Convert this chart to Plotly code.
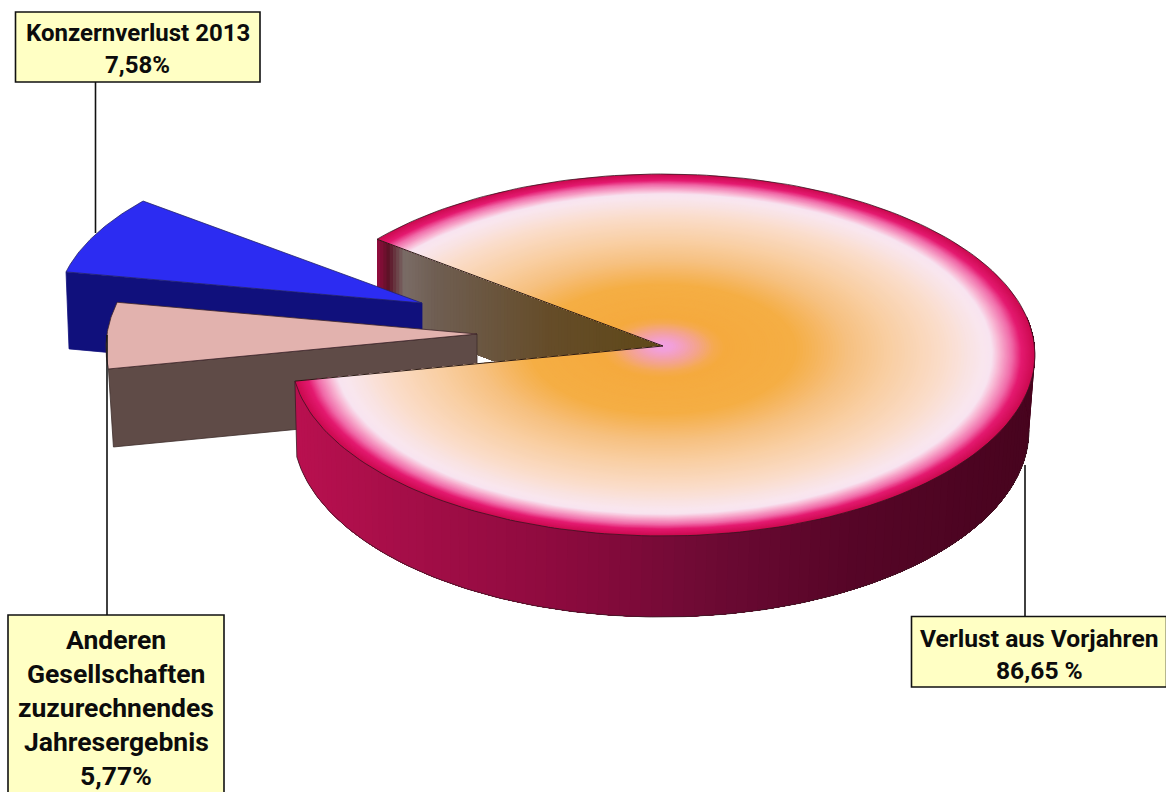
import math
import numpy as np
import plotly.graph_objects as go

# Shares of the consolidated loss, in percent
segment_names = ["Verlust aus Vorjahren", "Konzernverlust 2013", "Anderen Gesellschaften zuzurechnendes Jahresergebnis"]
segment_shares = [86.65, 7.58, 5.77]
label_lines = [
    ["Verlust aus Vorjahren", "86,65 %"],
    ["Konzernverlust 2013", "7,58%"],
    ["Anderen", "Gesellschaften", "zuzurechnendes", "Jahresergebnis", "5,77%"],
]

W, H = 1166, 792
START_DEG = 188.3  # where the large slice begins, counter-clockwise
FONT = "Roboto"


def spans():
    """Turn the shares into consecutive angular spans in degrees."""
    out, a = [], START_DEG
    for s in segment_shares:
        out.append((a, a + s * 3.6))
        a += s * 3.6
    return out


def mix(stops, f):
    """Piecewise linear colour lookup; stops are (position, '#rrggbb')."""
    f = min(max(f, stops[0][0]), stops[-1][0])
    for (p0, c0), (p1, c1) in zip(stops, stops[1:]):
        if f <= p1:
            k = 0 if p1 == p0 else (f - p0) / (p1 - p0)
            a = [int(c0[i:i + 2], 16) for i in (1, 3, 5)]
            b = [int(c1[i:i + 2], 16) for i in (1, 3, 5)]
            v = [round(x + (y - x) * k) for x, y in zip(a, b)]
            return f"rgb({v[0]},{v[1]},{v[2]})"
    return stops[-1][1]


def arc(cx, cy, rx, ry, a0, a1, n=160):
    t = np.radians(np.linspace(a0, a1, n))
    return cx + rx * np.cos(t), cy - ry * np.sin(t)


fig = go.Figure()


def poly(x, y, fill, line=None, lw=0.0):
    fig.add_trace(go.Scatter(
        x=list(x) + [x[0]], y=list(y) + [y[0]], mode="lines", fill="toself",
        fillcolor=fill, line=dict(color=line or fill, width=lw if line else 0),
        hoverinfo="skip", showlegend=False))


def stroke(x, y, color="#2a1a1e", lw=0.9):
    fig.add_trace(go.Scatter(
        x=list(x), y=list(y), mode="lines", line=dict(color=color, width=lw),
        hoverinfo="skip", showlegend=False))


(main_a0, main_a1), (blue_a0, blue_a1), (rose_a0, rose_a1) = spans()

# Large slice: top ellipse, gradient anchor and the slightly smaller base ellipse
APEX = (663.0, 346.0)
TOP = dict(cx=663.0, cy=355.0, rx=372.0, ry=181.0)
BASE = dict(cx=661.0, cy=430.0, rx=368.0, ry=187.0)
DEPTH = 78.0

rim_t = math.radians(main_a1)
rear_x = TOP["cx"] + TOP["rx"] * math.cos(rim_t)
rear_y = TOP["cy"] - TOP["ry"] * math.sin(rim_t)

# Inner cut face of the large slice, seen through the gap; each strip is painted
# over the rest of the face so neighbouring strips leave no seams
rear_stops = [(0, "#8e0c3c"), (.035, "#5c1226"), (.09, "#7a6c66"), (.2, "#6f5e52"),
              (.6, "#654c28"), (1, "#5f4818")]
STRIPS = 90
for i in range(STRIPS):
    f0 = i / STRIPS
    xa, ya = rear_x + (APEX[0] - rear_x) * f0, rear_y + (APEX[1] - rear_y) * f0
    poly([xa, APEX[0], APEX[0], xa], [ya, APEX[1], APEX[1] + DEPTH, ya + DEPTH], mix(rear_stops, f0))

# Exploded slice: blue
BLUE_TILT = 1.6
BLUE_LEAN = -0.08
bx, by = 422.0, 303.0
ax, ay = arc(bx, by, 365.0, 165.0, blue_a0 + BLUE_TILT, blue_a1 + BLUE_TILT, 50)
ax = ax + BLUE_LEAN * (ay - by)
poly([ax[-1], bx, bx, ax[-1] + 3], [ay[-1], by, by + DEPTH, ay[-1] + DEPTH - 1], "#10107c", "#10107c", 0.8)
poly([bx, *ax], [by, *ay], "#2c2cf2", "#24246a", 0.8)

# Exploded slice: rose, leaning slightly away from the large slice
ROSE_TILT = 2.6
ROSE_LEAN = -0.15
px, py = 477.0, 334.0
ax, ay = arc(px, py, 370.0, 185.0, rose_a0 + ROSE_TILT, rose_a1 + ROSE_TILT, 40)
ax = ax + ROSE_LEAN * (ay - py)
poly([ax[-1], px, px, ax[-1] + 5], [ay[-1], py, py + DEPTH, ay[-1] + DEPTH], "#5f4b47", "#3c2c2a", 0.8)
poly([px, *ax], [py, *ay], "#e2b2ae", "#3c2428", 0.8)

# Outer wall of the large slice, painted from the cut towards the right-hand end
wall_stops = [(297, "#b8104f"), (400, "#a50e48"), (560, "#8c0a3e"), (700, "#6e0a34"),
              (850, "#560527"), (1035, "#47041e")]
WALL = 110
WALL_END = 372
edges = np.linspace(main_a0, WALL_END, WALL, endpoint=False)
for a0 in edges:
    n = max(3, int((WALL_END - a0) / 1.5))
    tx, ty = arc(TOP["cx"], TOP["cy"], TOP["rx"], TOP["ry"], a0, WALL_END, n)
    ux, uy = arc(BASE["cx"], BASE["cy"], BASE["rx"], BASE["ry"], WALL_END, a0, n)
    poly([*tx, *ux], [*ty, *uy], mix(wall_stops, float(tx[0])))
ex, ey = arc(BASE["cx"], BASE["cy"], BASE["rx"], BASE["ry"], main_a0, 360, 200)
stroke(ex, ey, "#3a1a24", 0.8)
stroke([ex[0], TOP["cx"] + TOP["rx"] * math.cos(math.radians(main_a0))],
       [ey[0], TOP["cy"] - TOP["ry"] * math.sin(math.radians(main_a0))], "#3a1a24", 0.8)

# Top face: shrinking copies of the slice around its apex give the radial gradient
top_stops = [(0, "#f2a0e4"), (.03, "#f2a0d8"), (.06, "#f3a0b8"), (.1, "#f4a488"), (.14, "#f5aa50"),
             (.17, "#f5aa3e"), (.36, "#f5ae44"), (.5, "#f6c080"), (.62, "#f9cfa4"), (.75, "#fadcc8"),
             (.86, "#f9e6ee"), (.885, "#f8e4f0"), (.905, "#f8b8d4"), (.94, "#f06aa8"), (.965, "#e41a70"),
             (1, "#cc0a50")]
ox, oy = arc(TOP["cx"], TOP["cy"], TOP["rx"], TOP["ry"], main_a0, main_a1, 220)
radii = np.concatenate([np.linspace(1, .84, 56), np.linspace(.835, .28, 70), np.linspace(.275, .004, 44)])
for r in radii:
    poly(np.r_[APEX[0], APEX[0] + r * (ox - APEX[0])], np.r_[APEX[1], APEX[1] + r * (oy - APEX[1])], mix(top_stops, r))

# Outline of the top face: both cuts and the whole rim
stroke([ox[-1], APEX[0], ox[0]], [oy[-1], APEX[1], oy[0]], "#2a1a14", 1.0)
stroke(ox, oy, "#3a1420", 0.8)

# Label boxes with their leader lines
BOXES = [
    dict(idx=0, x0=911.5, x1=1166.5, y0=616.5, y1=687, first=638, step=32, size=24.6, lead=(1025, 465, 616)),
    dict(idx=1, x0=15.5, x1=260, y0=12, y1=82, first=33, step=32, size=24, lead=(95.5, 82, 233)),
    dict(idx=2, x0=8, x1=224, y0=615, y1=800, first=639, step=34.2, size=26.5, lead=(107, 335, 615)),
]
shapes, notes = [], []
for b in BOXES:
    lx, ly0, ly1 = b["lead"]
    shapes.append(dict(type="line", xref="x", yref="y", x0=lx, x1=lx, y0=ly0, y1=ly1,
                       line=dict(color="#111111", width=1.6), layer="above"))
    shapes.append(dict(type="rect", xref="x", yref="y", x0=b["x0"], x1=b["x1"], y0=b["y0"], y1=b["y1"],
                       fillcolor="#ffffc4", line=dict(color="#111111", width=1.6), layer="above"))
    for i, line in enumerate(label_lines[b["idx"]]):
        notes.append(dict(x=(b["x0"] + b["x1"]) / 2, y=b["first"] + i * b["step"], xref="x", yref="y",
                          text=f"<b>{line}</b>", showarrow=False, xanchor="center", yanchor="middle",
                          font=dict(family=FONT, size=b["size"], color="#0c0c0c")))

fig.update_layout(
    width=W, height=H, autosize=False, margin=dict(l=0, r=0, t=0, b=0),
    paper_bgcolor="white", plot_bgcolor="white", showlegend=False,
    xaxis=dict(range=[0, W], visible=False, fixedrange=True),
    yaxis=dict(range=[H, 0], visible=False, fixedrange=True),
    shapes=shapes, annotations=notes,
)
fig.write_html("out.html", config={"displayModeBar": False})
